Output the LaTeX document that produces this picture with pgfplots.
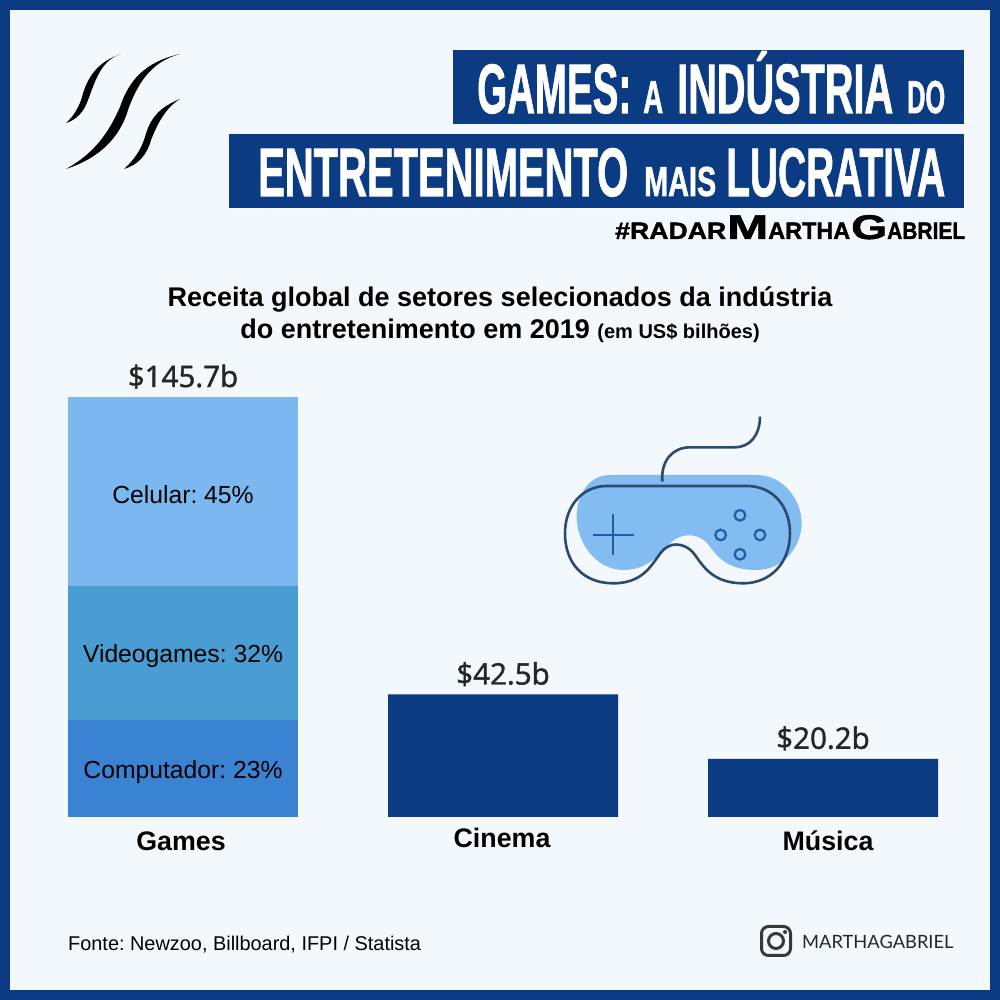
\documentclass[border=0pt]{standalone}
\usepackage{fontspec}
\usepackage{graphicx}
\usepackage{pgfplots}
\pgfplotsset{compat=1.18}
\setmainfont{Liberation Sans}
\newfontfamily\lblfont[FakeBold=1.5]{Open Sans}
\newfontfamily\igfont{Lato}
\newfontfamily\hdfont[FakeBold=1.5]{Liberation Sans Bold}
\definecolor{navy}{HTML}{0B3B82}
\definecolor{paper}{HTML}{F3F8FD}
\definecolor{celular}{HTML}{7AB8EF}
\definecolor{videog}{HTML}{4A9DD2}
\definecolor{comput}{HTML}{3A82D2}
\definecolor{padblue}{HTML}{82BCF0}
\definecolor{padline}{HTML}{2B4A70}
\definecolor{padbtn}{HTML}{1F5FA0}
% text stretched to a given width and cap height (px)
\newcommand{\fit}[3]{\resizebox{#1pt}{#2pt}{\fontsize{40}{40}\selectfont\hdfont\raisebox{0pt}[0.716em][0pt]{#3}}}
\begin{document}
\frenchspacing
\begin{tikzpicture}[x=1pt,y=1pt]
\fill[navy] (0,0) rectangle (1000,1000);
\fill[paper] (10,10) rectangle (990,990);

\begin{axis}[
    at={(68pt,183pt)}, anchor=south west,
    scale only axis, width=870pt, height=420pt,
    xmin=-0.359375, xmax=2.359375, ymin=0, ymax=145.7,
    ybar stacked, bar width=230pt,
    axis line style={draw=none}, major tick length=0pt,
    ytick=\empty, xtick={0,1,2},
    xticklabels={{\hspace*{-4pt}Games},{\hspace*{-2pt}\raisebox{3pt}{Cinema}},{\hspace*{10pt}Música}},
    xticklabel style={font=\fontsize{26.8}{26.8}\selectfont\bfseries, text height=20pt, text depth=0pt, yshift=-10pt},
    title={Receita global de setores selecionados da indústria\\do entretenimento em 2019 {\fontsize{20}{20}\selectfont(em US\$ bilhões)}},
    title style={at={(0.5,1)}, anchor=south, align=center, yshift=45pt, xshift=-3pt,
      font=\fontsize{27}{32}\selectfont\bfseries},
    clip=false,
    segment/.style={draw=none, point meta=explicit symbolic, nodes near coords,
      every node near coord/.append style={font=\fontsize{24.7}{24.7}\selectfont, text=black, yshift=-3pt}},
  ]
  \addplot[fill=comput, segment] coordinates {(0,33.5)[Computador: 23\%] (1,0)[] (2,0)[]};
  \addplot[fill=videog, segment] coordinates {(0,46.6)[Videogames: 32\%] (1,0)[] (2,0)[]};
  \addplot[fill=celular, segment] coordinates {(0,65.6)[Celular: 45\%] (1,0)[] (2,0)[]};
  \addplot[fill=navy, draw=none] coordinates {(0,0) (1,42.5) (2,20.2)};
\end{axis}

% totals: second axis on the same frame, not stacked
\begin{axis}[
    at={(68pt,183pt)}, anchor=south west,
    scale only axis, width=870pt, height=420pt,
    xmin=-0.359375, xmax=2.359375, ymin=0, ymax=145.7,
    hide axis, clip=false,
    /pgf/number format/assume math mode=true,
  ]
  \addplot[only marks, mark=none, point meta=y,
    nodes near coords={\$\pgfmathprintnumber[fixed,fixed zerofill,precision=1]{\pgfplotspointmeta}b},
    every node near coord/.append style={anchor=base, yshift=10pt, font=\fontsize{29.5}{29.5}\selectfont\lblfont, text=black!85}]
    coordinates {(0,145.7) (1,42.5) (2,20.2)};
\end{axis}

\begin{scope}[y=-1pt, shift={(0,1000pt)}]
  % header
  \fill[navy] (453,50) rectangle (964,124);
  \fill[navy] (229,134) rectangle (964,208);
  \tikzset{hd/.style={anchor=base west, inner sep=0pt, text=white}}
  \node[hd] at (477,113) {\fit{154}{50}{GAMES:}};
  \node[hd] at (643,113) {\fit{20}{33}{A}};
  \node[hd] at (677,113) {\fit{216}{50}{INDÚSTRIA}};
  \node[hd] at (907,113) {\fit{38}{33}{DO}};
  \node[hd] at (258,196) {\fit{370}{49}{ENTRETENIMENTO}};
  \node[hd] at (644,196) {\fit{72}{30}{MAIS}};
  \node[hd] at (726,196) {\fit{219}{49}{LUCRATIVA}};
  % hashtag
  \tikzset{hs/.style={anchor=base west, inner sep=0pt, text=black}}
  \node[hs] at (615,239) {\fit{111}{17}{\#RADAR}};
  \node[hs] at (727,239) {\fit{41}{24.5}{M}};
  \node[hs] at (768,239) {\fit{82}{17}{ARTHA}};
  \node[hs] at (851,239) {\fit{36}{24.5}{G}};
  \node[hs] at (887,239) {\fit{78}{17}{ABRIEL}};
  % logo
  \fill[black] (121,54) .. controls (100,60) and (94,85) .. (88,100) .. controls (84,112) and (76,120) .. (66,123)
    .. controls (74,116) and (79,107) .. (82,97) .. controls (87,78) and (97,62) .. (121,54) -- cycle;
  \fill[black] (180,54) .. controls (150,62) and (137,85) .. (128,110) .. controls (120,137) and (100,158) .. (66,169)
    .. controls (95,153) and (109,132) .. (120,107) .. controls (129,80) and (145,62) .. (180,54) -- cycle;
  \fill[black] (180,99) .. controls (165,108) and (157,125) .. (151,140) .. controls (147,155) and (138,165) .. (124,169)
    .. controls (134,160) and (141,150) .. (145,137) .. controls (150,118) and (160,107) .. (180,99) -- cycle;
  % controller
  \begin{scope}[shift={(540,400)}, x=0.3333pt, y=-0.3333pt]
    \fill[padblue] (210,225) -- (650,225) .. controls (730,225) and (785,300) .. (785,370)
      .. controls (785,440) and (730,510) .. (650,510) .. controls (570,510) and (540,480) .. (510,440)
      .. controls (490,410) and (450,395) .. (410,415) .. controls (370,440) and (340,510) .. (250,510)
      .. controls (170,510) and (110,430) .. (110,350) .. controls (110,280) and (150,225) .. (210,225) -- cycle;
    \begin{scope}[padline, line width=2.6pt]
      \draw (200,258) -- (620,258) .. controls (700,258) and (750,320) .. (750,400)
        .. controls (750,490) and (690,550) .. (610,550) .. controls (520,550) and (490,500) .. (465,465)
        .. controls (445,435) and (400,420) .. (370,450) .. controls (340,480) and (320,550) .. (220,550)
        .. controls (130,550) and (75,490) .. (75,400) .. controls (75,315) and (130,258) .. (200,258);
      \draw (367,245) .. controls (362,180) and (400,142) .. (450,142) -- (585,142)
        .. controls (630,142) and (660,105) .. (660,50);
    \end{scope}
    \begin{scope}[padbtn, line width=2.2pt]
      \draw (160,404) -- (283,404);
      \draw (220,343) -- (220,465);
      \draw (600,346) circle (16);
      \draw (660,405) circle (16);
      \draw (600,463) circle (16);
      \draw (542,405) circle (16);
    \end{scope}
  \end{scope}
  % footer
  \node[anchor=base west, inner sep=0pt, font=\fontsize{19.9}{19.9}\selectfont] at (68,951) {Fonte: Newzoo, Billboard, IFPI / Statista};
  \draw[black!78, line width=3pt, rounded corners=7pt] (761.5,926.5) rectangle (790.5,955.5);
  \draw[black!78, line width=3pt] (776,941) circle (7.5);
  \fill[black!78] (785,932) circle (2);
  \node[anchor=base west, inner sep=0pt, font=\fontsize{18.3}{18.3}\selectfont\igfont, text=black!85] at (802,949) {MARTHAGABRIEL};
\end{scope}
\end{tikzpicture}
\end{document}
